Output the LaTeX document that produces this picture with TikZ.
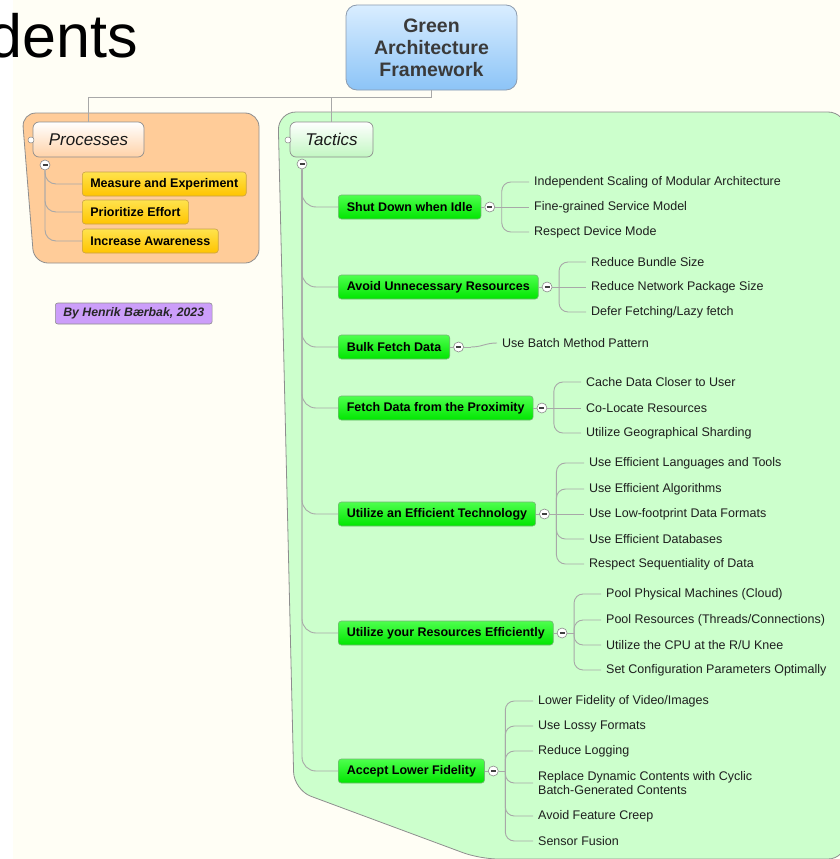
\documentclass[tikz,border=0pt]{standalone}
\usepackage{fontspec}
\setmainfont{Liberation Sans}
\definecolor{cream}{HTML}{FFFEF5}
\definecolor{greenreg}{HTML}{CCFFCC}
\definecolor{orangereg}{HTML}{FFCC99}
\definecolor{regborder}{HTML}{8E8E8E}
\definecolor{linegray}{HTML}{A8A8A8}
\definecolor{circgray}{HTML}{8A8A8A}
\definecolor{tactop}{HTML}{4DFF4D}
\definecolor{tacbot}{HTML}{00E600}
\definecolor{tacborder}{HTML}{74B874}
\definecolor{yeltop}{HTML}{FFE34D}
\definecolor{yelbot}{HTML}{FFC400}
\definecolor{yelborder}{HTML}{C9A24A}
\definecolor{roottop}{HTML}{D9EDFF}
\definecolor{rootbot}{HTML}{8CC4F7}
\definecolor{rootborder}{HTML}{8C9BAE}
\definecolor{roottext}{HTML}{3A3A3A}
\definecolor{leaftext}{HTML}{1E1E1E}
\definecolor{purplefill}{HTML}{CC9EFA}
\definecolor{procbot}{HTML}{FFD2A8}
\definecolor{tacsbot}{HTML}{C2F7C2}
\begin{document}
\begin{tikzpicture}[x=1pt,y=-1pt,
  conn/.style={draw=linegray, line width=0.9pt},
  region/.style={draw=regborder, line width=0.8pt, rounded corners=18pt},
  rootbox/.style={draw=rootborder, line width=0.8pt, rounded corners=11pt, top color=roottop, bottom color=rootbot,
    minimum width=171pt, minimum height=85pt, align=center, text=roottext,
    font=\fontsize{19.5}{22}\selectfont\bfseries},
  headbox/.style={draw=regborder, line width=0.7pt, rounded corners=6pt, minimum height=35pt,
    font=\fontsize{17}{20}\selectfont\itshape, text=black!90},
  tactic/.style={draw=tacborder, line width=0.6pt, rounded corners=3pt, top color=tactop, bottom color=tacbot,
    minimum height=24pt, inner xsep=8.5pt, inner ysep=0pt, anchor=west,
    font=\fontsize{12.5}{15}\selectfont\bfseries, text=black},
  proc/.style={draw=yelborder, line width=0.6pt, rounded corners=3pt, top color=yeltop, bottom color=yelbot,
    minimum height=24pt, inner xsep=8pt, inner ysep=0pt, anchor=west,
    font=\fontsize{12.5}{15}\selectfont\bfseries, text=black},
  leaf/.style={anchor=west, inner xsep=5pt, inner ysep=1pt, align=left, text=leaftext,
    font=\fontsize{12.5}{13.5}\selectfont},
  coll/.style={circle, draw=circgray, fill=white, line width=0.6pt, minimum size=10pt, inner sep=0pt,
    text=black!75, font=\fontsize{4}{4}\selectfont},
  dot/.style={circle, draw=circgray, fill=white, line width=0.5pt, minimum size=6pt, inner sep=0pt}
]
\useasboundingbox (0,0) rectangle (840,859);
\fill[white] (0,0) rectangle (840,859);
\fill[cream] (13,0) rectangle (840,859);

% regions
\draw[region, fill=orangereg, rounded corners=14pt] (22,113) -- (259,113) -- (259,263) -- (34,263) -- cycle;
\draw[region, fill=greenreg] (278,112) -- (846,112) -- (846,859) -- (480,859) -- (294,790) -- cycle;

% title fragment
\node[anchor=base east, inner sep=0pt, font=\fontsize{61}{61}\selectfont] (title) at (138,57) {dents};

% root
\node[rootbox] (root) at (431.5,47.5) {Green\\Architecture\\Framework};

% heads
\node[headbox, top color=white, bottom color=procbot, minimum width=111pt] (phead) at (88.5,139.5) {Processes};
\node[headbox, top color=white, bottom color=tacsbot, minimum width=83pt] (thead) at (331.5,139.5) {Tactics};
\coordinate (rj) at (431.5,97);
\draw[conn] (root.south) -- (rj) -| (phead.north);
\draw[conn] (rj) -| (thead.north);
\node[dot] (pdot) at (31,140) {};
\node[dot] (tdot) at (288,140) {};

% processes
\node[coll] (pc) at (45,165) {\rule{5pt}{1.2pt}};
\node[proc] (p1) at (82,184) {Measure and Experiment};
\node[proc] (p2) at (82,212) {Prioritize Effort};
\node[proc] (p3) at (82,241) {Increase Awareness};
\foreach \p in {p1,p2,p3} \draw[conn, rounded corners=11pt] (pc.south) |- (\p.west);

% credit
\node[draw=regborder, line width=0.6pt, rounded corners=2.5pt, fill=purplefill, anchor=west, minimum height=21pt,
  inner xsep=8pt, inner ysep=0pt, text=black!85, font=\fontsize{12.3}{14}\selectfont\bfseries\itshape] (credit) at (55,313.5) {By Henrik Bærbak, 2023};

% tactics
\node[coll] (tc) at (302,164) {\rule{5pt}{1.2pt}};
\node[tactic] (t1) at (338,207) {Shut Down when Idle};
\node[tactic] (t2) at (338,287) {Avoid Unnecessary Resources};
\node[tactic] (t3) at (338,347) {Bulk Fetch Data};
\node[tactic] (t4) at (338,408) {Fetch Data from the Proximity};
\node[tactic] (t5) at (338,514) {Utilize an Efficient Technology};
\node[tactic] (t6) at (338,633) {Utilize your Resources Efficiently};
\node[tactic] (t7) at (338,771) {Accept Lower Fidelity};
\foreach \t in {t1,t2,t3,t4,t5,t6,t7} {
  \draw[conn, rounded corners=14pt] (tc.south) |- (\t.west);
  \node[coll] (c\t) at ([xshift=8.5pt]\t.east) {\rule{5pt}{1.2pt}};
  \draw[conn] (\t.east) -- (c\t.west);
  \coordinate (b\t) at ([xshift=12pt]c\t.center);
  \draw[conn] (c\t.east) -- (b\t);
}

% leaves of t1
\node[leaf] (l11) at (529,182) {Independent Scaling of Modular Architecture};
\node[leaf] (l12) at (529,207) {Fine-grained Service Model};
\node[leaf] (l13) at (529,232) {Respect Device Mode};
% t2
\node[leaf] (l21) at (586,262) {Reduce Bundle Size};
\node[leaf] (l22) at (586,287) {Reduce Network Package Size};
\node[leaf] (l23) at (586,312) {Defer Fetching/Lazy fetch};
% t3
\node[leaf] (l31) at (497,343) {Use Batch Method Pattern};
% t4
\node[leaf] (l41) at (581,382) {Cache Data Closer to User};
\node[leaf] (l42) at (581,408) {Co-Locate Resources};
\node[leaf] (l43) at (581,433) {Utilize Geographical Sharding};
% t5
\node[leaf] (l51) at (584,463) {Use Efficient Languages and Tools};
\node[leaf] (l52) at (584,489) {Use Efficient Algorithms};
\node[leaf] (l53) at (584,514) {Use Low-footprint Data Formats};
\node[leaf] (l54) at (584,539) {Use Efficient Databases};
\node[leaf] (l55) at (584,564) {Respect Sequentiality of Data};
% t6
\node[leaf] (l61) at (601,594) {Pool Physical Machines (Cloud)};
\node[leaf] (l62) at (601,620) {Pool Resources (Threads/Connections)};
\node[leaf] (l63) at (601,645) {Utilize the CPU at the R/U Knee};
\node[leaf] (l64) at (601,670) {Set Configuration Parameters Optimally};
% t7
\node[leaf] (l71) at (533,701) {Lower Fidelity of Video/Images};
\node[leaf] (l72) at (533,726) {Use Lossy Formats};
\node[leaf] (l73) at (533,751) {Reduce Logging};
\node[leaf] (l74) at (533,783) {Replace Dynamic Contents with Cyclic\\Batch-Generated Contents};
\node[leaf] (l75) at (533,816) {Avoid Feature Creep};
\node[leaf] (l76) at (533,841) {Sensor Fusion};

% branch connectors
\foreach \l in {l11,l13} \draw[conn, rounded corners=9pt] (bt1) |- (\l.west);
\draw[conn] (bt1) -- (l12.west);
\foreach \l in {l21,l23} \draw[conn, rounded corners=9pt] (bt2) |- (\l.west);
\draw[conn] (bt2) -- (l22.west);
\draw[conn] (bt3) .. controls +(12,0) and +(-12,0) .. (l31.west);
\foreach \l in {l41,l43} \draw[conn, rounded corners=9pt] (bt4) |- (\l.west);
\draw[conn] (bt4) -- (l42.west);
\foreach \l in {l51,l52,l54,l55} \draw[conn, rounded corners=9pt] (bt5) |- (\l.west);
\draw[conn] (bt5) -- (l53.west);
\foreach \l in {l61,l62,l63,l64} \draw[conn, rounded corners=9pt] (bt6) |- (\l.west);
\foreach \l in {l71,l72,l73,l74,l75,l76} \draw[conn, rounded corners=9pt] (bt7) |- (\l.west);
\end{tikzpicture}
\end{document}
